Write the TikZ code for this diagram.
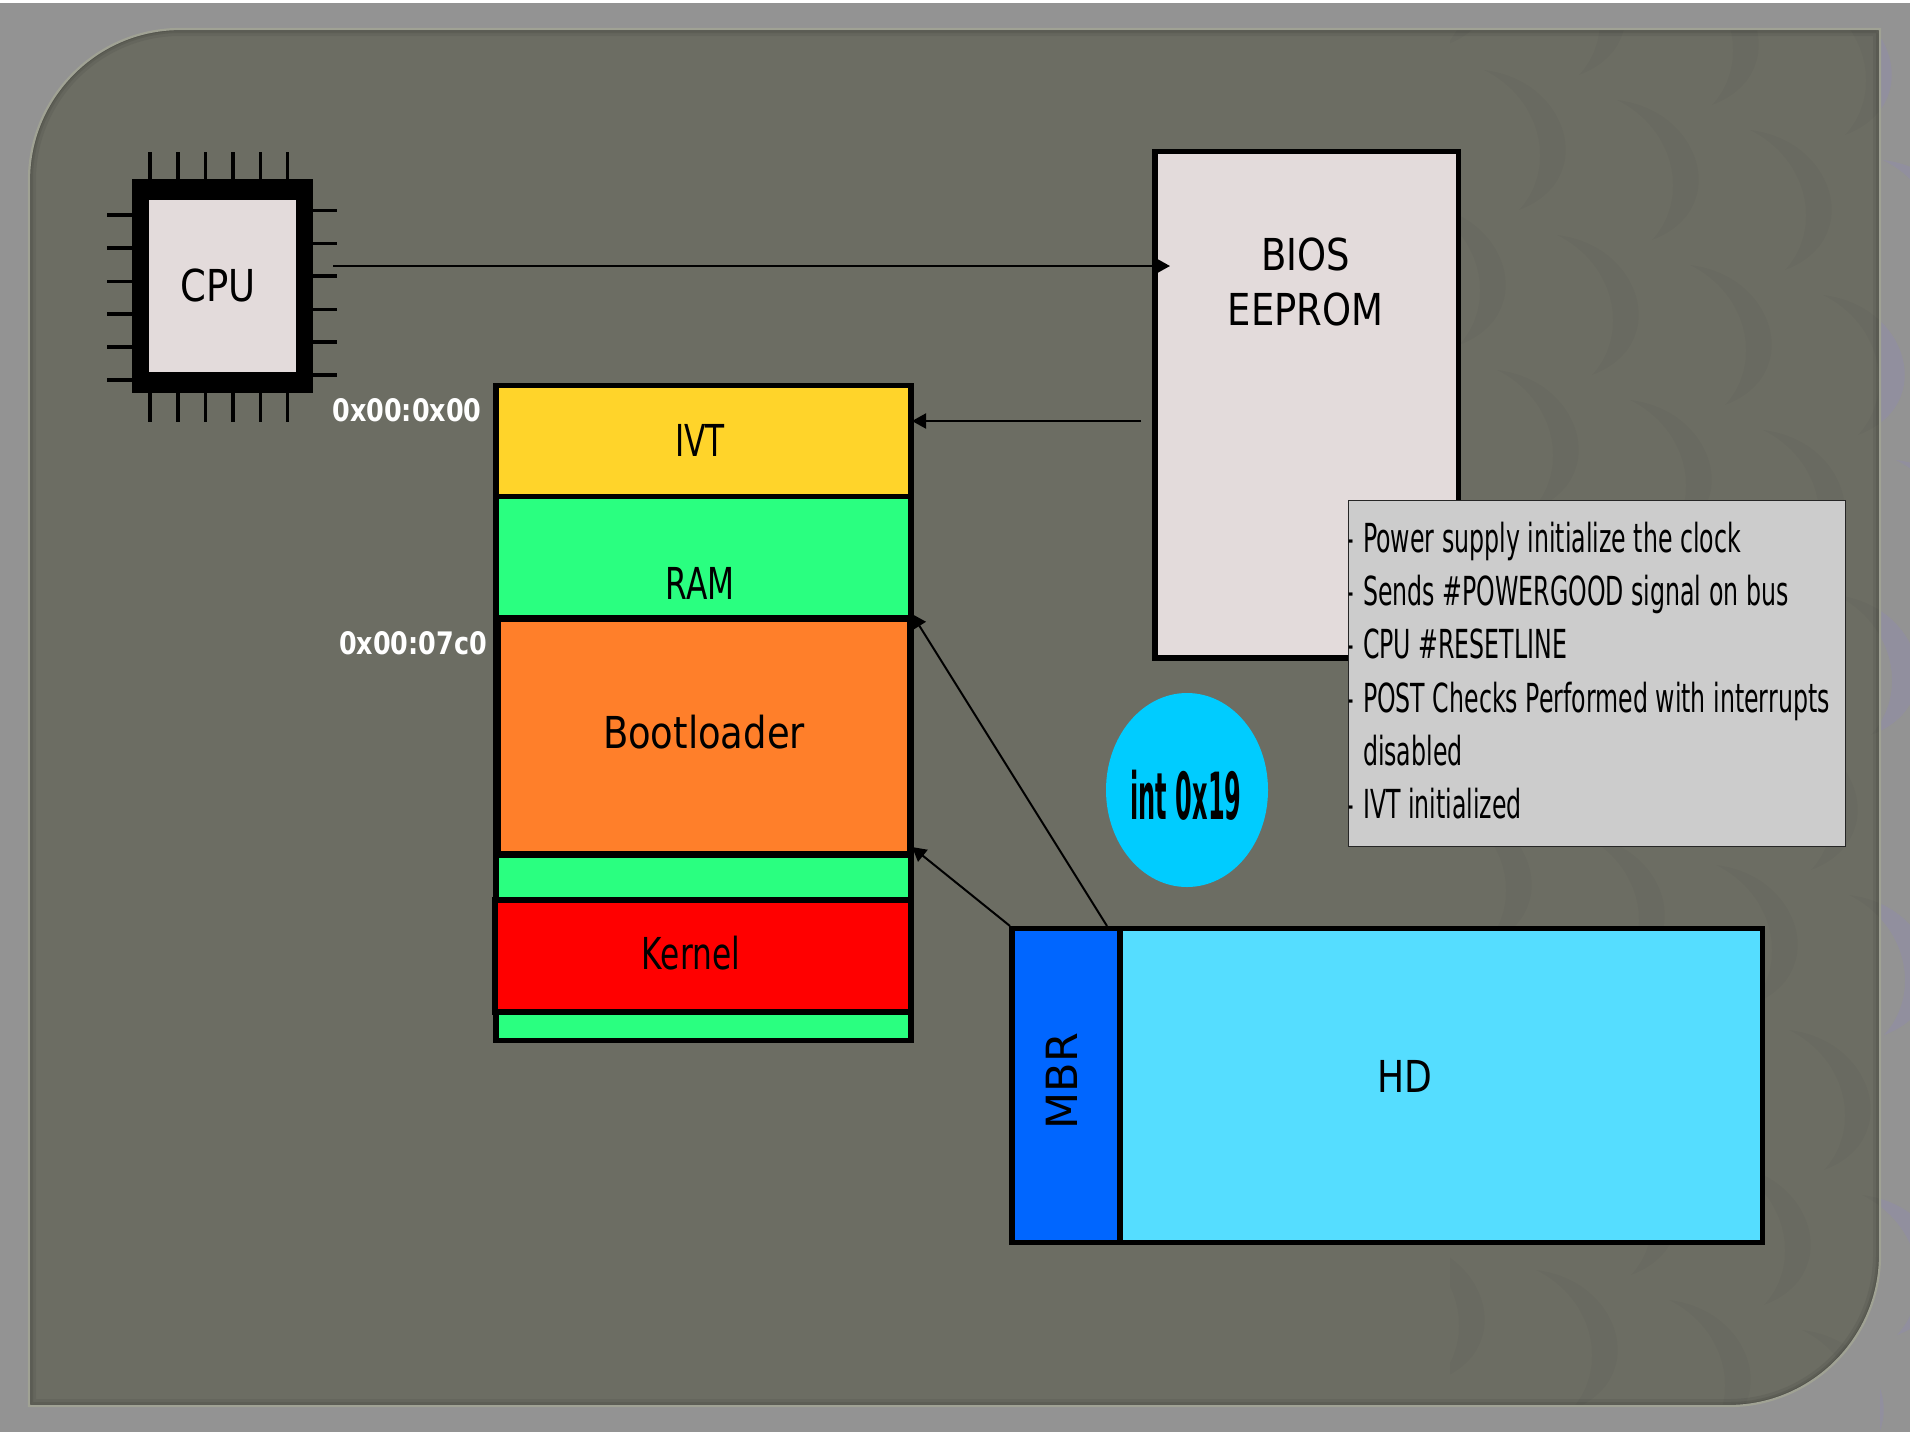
\documentclass[tikz,border=0pt]{standalone}
\usepackage{fontspec}
\setmainfont{DejaVu Sans}
\newfontfamily\narrowf[FakeStretch=0.84]{DejaVu Sans}
\newfontfamily\tightf[FakeStretch=0.71]{DejaVu Sans}
\newfontfamily\hdf[FakeStretch=0.82]{DejaVu Sans}
\newfontfamily\tipf[FakeStretch=0.592]{DejaVu Sans}
\newfontfamily\dashf[FakeStretch=0.36]{DejaVu Sans}
\newfontfamily\addrf[FakeStretch=0.82]{DejaVu Sans Bold}
\newfontfamily\intf[FakeStretch=0.37]{DejaVu Sans Bold}
\usetikzlibrary{arrows.meta,shapes.geometric}
\definecolor{pagegray}{HTML}{939393}
\definecolor{panelgray}{HTML}{6C6D63}
\definecolor{panelrim}{HTML}{A0A294}
\definecolor{swirlpurple}{HTML}{8F86B8}
\definecolor{chipfill}{HTML}{E3DBDB}
\definecolor{ivtyellow}{HTML}{FFD42A}
\definecolor{ramgreen}{HTML}{2AFF80}
\definecolor{bootorange}{HTML}{FF7F2A}
\definecolor{mbrblue}{HTML}{0066FF}
\definecolor{hdblue}{HTML}{55DDFF}
\definecolor{intblue}{HTML}{00CCFF}
\definecolor{tipgray}{HTML}{CCCCCC}
\newcommand{\pxbox}[7]{\node[#2,minimum width={(#5-#3)*0.5pt},minimum height={(#6-#4)*0.5pt}] (#1) at ({(#3+#5)/2},{(#4+#6)/2}) {#7};}
\newcommand{\panelpath}{(180,29) -- (1880,29) -- (1880,1255) .. controls (1880,1338) and (1812,1406) .. (1729,1406) -- (29,1406) -- (29,180) .. controls (29,97) and (97,29) .. (180,29) -- cycle}
\newcommand{\swirls}[1]{%
  \foreach \i in {-6,...,3}{\foreach \j in {-2,...,9}{
    \fill[#1,shift={({1617+133*\i+73*\j},{100+30*\i+165*\j})}]
      (0,0) .. controls (85,10) and (115,110) .. (35,140) .. controls (72,100) and (60,30) .. (0,0) -- cycle;
  }}}
\tikzset{
  x=0.5pt,y=-0.5pt,
  plain/.style={rectangle,inner sep=0pt,outer sep=0pt},
  memthin/.style={plain,draw=black,line width=2.6pt},
  pinline/.style={draw=black,line width=1.6pt},
  link/.style={draw=black,line width=1pt,-{Triangle[length=7pt,width=7.5pt]}},
  lbl/.style={inner sep=0pt,outer sep=0pt,text=black,font=\narrowf\fontsize{22}{26}\selectfont},
  tightlbl/.style={inner sep=0pt,outer sep=0pt,text=black,font=\tightf\fontsize{22}{26}\selectfont},
  addr/.style={inner sep=0pt,outer sep=0pt,text=white,font=\addrf\fontsize{15.5}{18}\selectfont},
}
\newcommand{\nd}{\llap{{\dashf -}\hspace{4.5pt}}}
\begin{document}
\begin{tikzpicture}
\useasboundingbox (0,0) rectangle (1910,1436);
\fill[white] (0,0) rectangle (1910,1436);
\fill[pagegray] (0,3) rectangle (1910,1432);
\begin{scope}
  \clip (1880,3) rectangle (1910,1432);
  \swirls{swirlpurple,opacity=.3}
\end{scope}
\fill[panelgray] \panelpath;
\begin{scope}
  \clip \panelpath;
  \begin{scope}
    \clip (1450,29) rectangle (1880,1406);
    \swirls{black,opacity=.02}
  \end{scope}
  \draw[black,opacity=.06,line width=7pt] \panelpath;
  \draw[black,opacity=.08,line width=4pt] \panelpath;
  \draw[black,opacity=.10,line width=2pt] \panelpath;
\end{scope}
\draw[panelrim,line width=1.1pt] \panelpath;
% CPU
\foreach \px in {150,178,205.6,233,260.6,287.5}{
  \draw[pinline] (\px,152) -- (\px,180);
  \draw[pinline] (\px,392) -- (\px,422);
}
\foreach \py in {215,248,281.6,314,347,380}{\draw[pinline] (107,\py) -- (133,\py);}
\foreach \py in {210.6,243.6,276,309.6,342,375}{\draw[pinline] (312,\py) -- (337,\py);}
\pxbox{cpuouter}{plain,fill=black}{132}{179}{313}{393}{}
\pxbox{cpu}{plain,fill=chipfill}{149}{200}{296}{372}{}
\node[lbl] (cpulabel) at (218,285.5) {CPU};
% BIOS
\pxbox{bios}{memthin,fill=chipfill}{1155}{151.5}{1458.5}{658}{}
\node[lbl,align=center,font=\narrowf\fontsize{22}{27.5}\selectfont] (bioslabel) at (1305.5,281.5) {BIOS\\EEPROM};
% memory stack
\pxbox{stack}{memthin,fill=ramgreen}{496}{385.5}{911}{1040.5}{}
\pxbox{ivt}{memthin,fill=ivtyellow}{496}{385.5}{911}{496.5}{}
\pxbox{boot}{plain,draw=black,line width=3.5pt,fill=bootorange}{497.5}{618.5}{910}{854.5}{}
\pxbox{kernel}{plain,draw=black,line width=3pt,fill=red}{495}{900}{910.5}{1012}{}
\node[tightlbl] (ivtlabel) at (700,440) {IVT};
\node[tightlbl] (ramlabel) at (700,583) {RAM};
\node[lbl] (bootlabel) at (704,732) {Bootloader};
\node[tightlbl] (kernellabel) at (691,953) {Kernel};
\node[addr] (addra) at (407,410) {0x00:0x00};
\node[addr] (addrb) at (413,643) {0x00:07c0};
% disk
\pxbox{hd}{memthin,fill=hdblue}{1012}{928.7}{1762.5}{1242.3}{}
\pxbox{mbr}{memthin,fill=mbrblue}{1012}{928.7}{1120}{1242.3}{}
\node[inner sep=0pt,outer sep=0pt,rotate=90,font=\fontsize{21.5}{26}\selectfont] (mbrlabel) at (1062,1081) {MBR};
\node[inner sep=0pt,outer sep=0pt,font=\hdf\fontsize{22}{26}\selectfont] (hdlabel) at (1405,1076) {HD};
% interrupt
\node[ellipse,minimum width=81pt,minimum height=97pt,inner sep=0pt,outer sep=0pt,fill=intblue] (intcircle) at (1187,790) {};
\node[inner sep=0pt,outer sep=0pt,font=\intf\fontsize{32.5}{36}\selectfont] (intlabel) at (1186,795) {int 0x19};
% notes
\pxbox{notes}{plain,draw={black!85!white},line width=0.9pt,fill=tipgray}{1348.5}{500.5}{1845.5}{846.5}{}
\node[anchor=north west,inner sep=0pt,outer sep=0pt,align=left,font=\tipf\fontsize{20}{26.6}\selectfont] (notestext) at (1363,522) {%
\nd Power supply initialize the clock\\
\nd Sends \#POWERGOOD signal on bus\\
\nd CPU \#RESETLINE\\
\nd POST Checks Performed with interrupts\\
disabled\\
\nd IVT initialized};
% connectors
\coordinate (cpuout) at (333,266);
\coordinate (biosin) at (1170,266);
\coordinate (biosout) at (1141,421);
\coordinate (ivtin) at (912,421);
\coordinate (mbrtopa) at (1107,926);
\coordinate (bootin) at (912,614);
\coordinate (mbrtopb) at (1010,926);
\coordinate (bootinb) at (912,847);
\draw[link] (cpuout) -- (biosin);
\draw[link] (biosout) -- (ivtin);
\draw[link] (mbrtopa) -- (bootin);
\draw[link] (mbrtopb) -- (bootinb);
\end{tikzpicture}
\end{document}
